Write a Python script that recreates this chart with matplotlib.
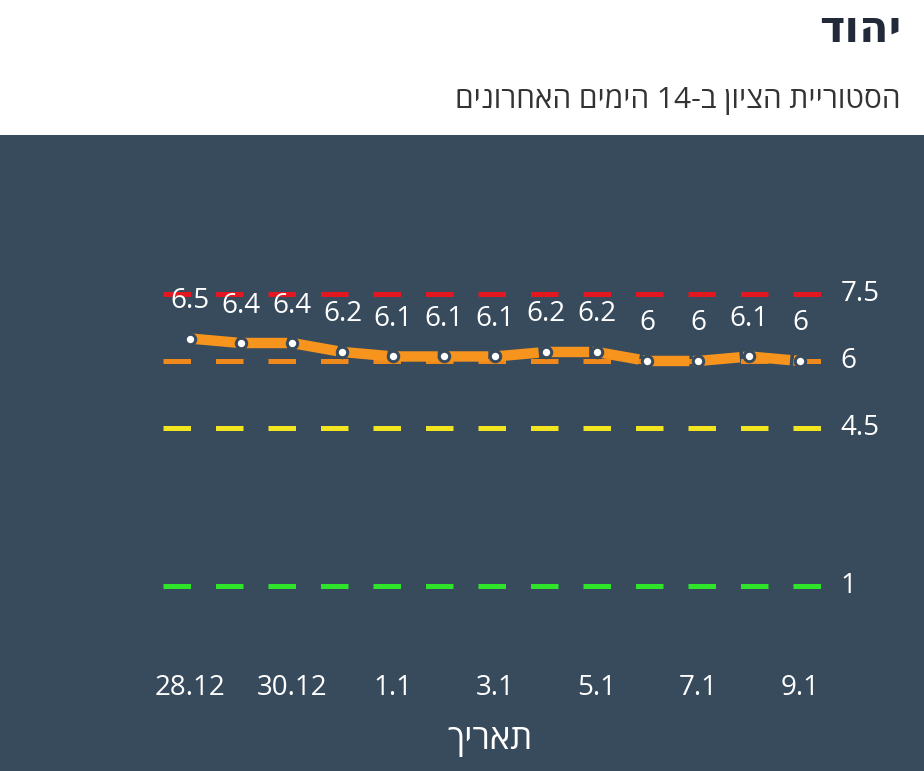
import re
import numpy as np
import matplotlib.pyplot as plt

plt.rcParams['font.family'] = ['Open Sans', 'DejaVu Sans']

# ------------------------------------------------------------
# DATA
# ------------------------------------------------------------
dates = ['28.12', '29.12', '30.12', '31.12', '1.1', '2.1', '3.1',
         '4.1', '5.1', '6.1', '7.1', '8.1', '9.1']
scores = [6.5, 6.4, 6.4, 6.2, 6.1, 6.1, 6.1, 6.2, 6.2, 6.0, 6.0, 6.1, 6.0]
value_labels = ['6.5', '6.4', '6.4', '6.2', '6.1', '6.1', '6.1',
                '6.2', '6.2', '6', '6', '6.1', '6']

thresholds = [7.5, 6, 4.5, 1]
threshold_labels = ['7.5', '6', '4.5', '1']
threshold_colors = ['#e3171f', '#f0891c', '#f2e41e', '#2ee52a']

title = 'יהוד'
subtitle = 'הסטוריית הציון ב-14 הימים האחרונים'
xlabel = 'תאריך'


def rtl(s):
    # matplotlib has no bidi: reverse, then put digit runs back in order
    r = s[::-1]
    return re.sub(r'[0-9.]+', lambda m: m.group(0)[::-1], r)


panel = '#384b5d'

fig = plt.figure(figsize=(9.24, 7.71), dpi=100)
fig.patch.set_facecolor('white')

fig.text(0.975, 0.960, rtl(title), ha='right', va='center',
         fontsize=31, fontweight='bold', color='#222a3a')
fig.text(0.975, 0.870, rtl(subtitle), ha='right', va='center',
         fontsize=21.5, color='#333333')

# axes covers the dark panel (y 135..771 px)
ax = fig.add_axes([0, 0, 1, 636 / 771])
ax.set_facecolor(panel)
ax.set_xlim(-3.738, 14.44)
ax.set_ylim(-3.127, 11.03)
for s in ax.spines.values():
    s.set_visible(False)
ax.set_xticks([])
ax.set_yticks([])

# threshold lines
for v, lab, c in zip(thresholds, threshold_labels, threshold_colors):
    ax.plot([-0.53, 12.55], [v, v], color=c, lw=3.6, dashes=(5.5, 5),
            solid_capstyle='butt', dash_capstyle='butt')
    ax.text(12.8, v, lab, ha='left', va='center', fontsize=20,
            color='white')

# score line
x = np.arange(len(scores))
ax.plot(x, scores, color='#f7941d', lw=7.5, dashes=(4.5, 0.35),
        dash_capstyle='butt', zorder=3)
ax.plot(x, scores, 'o', ms=7.5, mfc='white', mec=panel, mew=2.2, zorder=4)

for xi, v, lab in zip(x, scores, value_labels):
    ax.annotate(lab, (xi, v), xytext=(0, 27), textcoords='offset points',
                ha='center', va='center', fontsize=20, color='white')

# date labels every other day
for xi in x[::2]:
    ax.text(xi, -1.28, dates[xi], ha='center', va='center', fontsize=20,
            color='white')

ax.text(5.9, -2.44, rtl(xlabel), ha='center', va='center', fontsize=25,
        color='white')

fig.savefig('out.png', dpi=100, facecolor=fig.get_facecolor())
